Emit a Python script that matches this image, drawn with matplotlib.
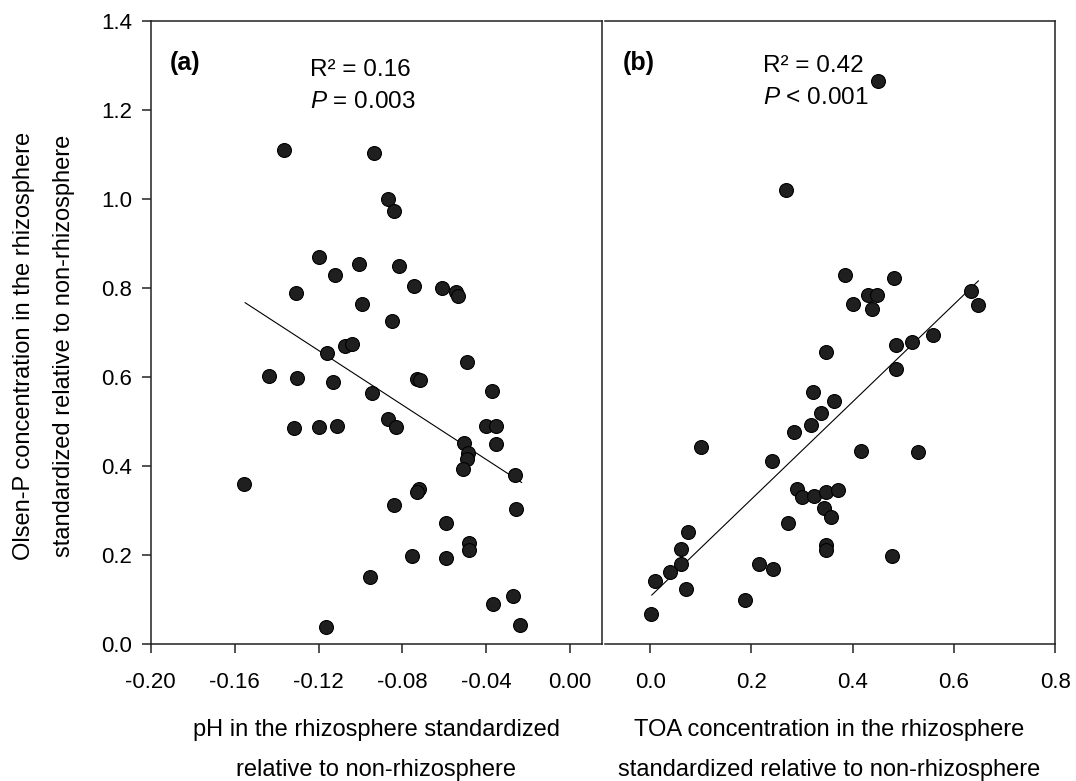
import matplotlib
matplotlib.use("Agg")
import matplotlib.pyplot as plt
import numpy as np

plt.rcParams["font.family"] = ["Liberation Sans", "DejaVu Sans"]
plt.rcParams["axes.unicode_minus"] = False
plt.rcParams["mathtext.fontset"] = "custom"
plt.rcParams["mathtext.rm"] = "Liberation Sans"
plt.rcParams["mathtext.it"] = "Liberation Sans:italic"

# (a) pH vs Olsen-P
ph_x = [-0.1365, -0.0934, -0.087, -0.084, -0.1196, -0.1006, -0.1122, -0.0818,
        -0.1306, -0.0745, -0.061, -0.0546, -0.0534, -0.0991, -0.0851, -0.1158,
        -0.1074, -0.1042, -0.1435, -0.1304, -0.113, -0.0947, -0.073, -0.0716,
        -0.0494, -0.0375, -0.1317, -0.1196, -0.1113, -0.087, -0.0832, -0.0402,
        -0.0354, -0.0505, -0.0356, -0.0486, -0.0494, -0.0513, -0.0264, -0.1554,
        -0.072, -0.0729, -0.084, -0.026, -0.0593, -0.0481, -0.0483, -0.0753,
        -0.0593, -0.0956, -0.0272, -0.037, -0.024, -0.1166]
olsen_a = [1.110, 1.104, 1.000, 0.972, 0.870, 0.854, 0.829, 0.849,
           0.788, 0.804, 0.800, 0.792, 0.782, 0.763, 0.726, 0.653,
           0.670, 0.674, 0.603, 0.598, 0.588, 0.563, 0.595, 0.593,
           0.633, 0.569, 0.486, 0.487, 0.489, 0.505, 0.488, 0.491,
           0.491, 0.452, 0.449, 0.429, 0.416, 0.393, 0.380, 0.360,
           0.349, 0.341, 0.313, 0.303, 0.271, 0.226, 0.211, 0.198,
           0.193, 0.151, 0.109, 0.091, 0.043, 0.0375]
fit_a_x = [-0.155, -0.0232]
fit_a_y = [0.767, 0.363]

# (b) TOA vs Olsen-P
toa_x = [0.4494, 0.269, 0.385, 0.4816, 0.431, 0.4475, 0.400, 0.4376, 0.6336,
         0.648, 0.559, 0.5166, 0.4856, 0.3468, 0.486, 0.3224, 0.3638, 0.337,
         0.3178, 0.2848, 0.1007, 0.4159, 0.5284, 0.2402, 0.2896, 0.2995,
         0.3243, 0.3474, 0.3717, 0.3435, 0.3567, 0.273, 0.0744, 0.0612, 0.348,
         0.348, 0.0612, 0.0395, 0.0099, 0.2158, 0.2434, 0.4783, 0.0711,
         0.1875, 0.002]
olsen_b = [1.265, 1.020, 0.829, 0.822, 0.784, 0.784, 0.764, 0.752, 0.793,
           0.762, 0.694, 0.678, 0.672, 0.657, 0.618, 0.566, 0.545, 0.520,
           0.493, 0.476, 0.443, 0.434, 0.431, 0.411, 0.348, 0.331,
           0.333, 0.341, 0.345, 0.305, 0.286, 0.273, 0.252, 0.213, 0.2225,
           0.211, 0.179, 0.162, 0.142, 0.180, 0.168, 0.198, 0.124,
           0.100, 0.068]
fit_b_x = [0.0033, 0.648]
fit_b_y = [0.110, 0.816]

ylabel = "Olsen-P concentration in the rhizosphere\nstandardized relative to non-rhizosphere"
xlabel_a = "pH in the rhizosphere standardized\nrelative to non-rhizosphere"
xlabel_b = "TOA concentration in the rhizosphere\nstandardized relative to non-rhizosphere"

fig = plt.figure(figsize=(10.76, 7.81), dpi=100)
ax1 = fig.add_axes([0.1401, 0.1754, 0.4191, 0.7977])
ax2 = fig.add_axes([0.5623, 0.1754, 0.4185, 0.7977])

dot = dict(ls="none", marker="o", ms=10, mfc="#1f1f1f", mec="black", mew=0.8, zorder=3)

ax1.plot(ph_x, olsen_a, **dot)
ax1.plot(fit_a_x, fit_a_y, color="black", lw=0.8, zorder=2)
ax2.plot(toa_x, olsen_b, **dot)
ax2.plot(fit_b_x, fit_b_y, color="black", lw=0.8, zorder=2)

for ax in (ax1, ax2):
    ax.set_ylim(0, 1.4)
    for s in ax.spines.values():
        s.set_linewidth(1.1)
        s.set_color("#222222")
    ax.tick_params(axis="x", direction="out", length=6.5, width=1.1, pad=14,
                   labelsize=16, color="#222222")

ax1.set_xlim(-0.2, 0.015)
ax1.set_xticks(np.arange(-0.2, 0.001, 0.04))
ax1.set_xticklabels([f"{v:.2f}" for v in np.arange(-0.2, 0.001, 0.04)])
ax1.set_yticks(np.arange(0, 1.41, 0.2))
ax1.set_yticklabels([f"{v:.1f}" for v in np.arange(0, 1.41, 0.2)])
ax1.tick_params(axis="y", direction="out", length=6.5, width=1.1, pad=7,
                labelsize=16, color="#222222", right=False)

ax2.set_xlim(-0.089, 0.8)
ax2.set_xticks(np.arange(0, 0.81, 0.2))
ax2.set_xticklabels([f"{v:.1f}" for v in np.arange(0, 0.81, 0.2)])
ax2.spines["left"].set_visible(False)
ax2.tick_params(axis="y", left=False, labelleft=False)

ax1.set_ylabel(ylabel, fontsize=17, linespacing=2.05, va="center")
ax1.yaxis.set_label_coords(-0.236, 0.478)
ax1.set_xlabel(xlabel_a, fontsize=17, linespacing=2.05)
ax1.xaxis.set_label_coords(0.5, -0.121)
ax2.set_xlabel(xlabel_b, fontsize=17, linespacing=2.05)
ax2.xaxis.set_label_coords(0.497, -0.121)

ax1.text(0.043, 0.933, "(a)", transform=ax1.transAxes, fontsize=18,
         fontweight="bold", va="center", ha="left")
ax1.text(0.353, 0.921, "R² = 0.16", transform=ax1.transAxes, fontsize=17.5,
         va="center", ha="left")
ax1.text(0.353, 0.870, r"$P$ = 0.003", transform=ax1.transAxes, fontsize=17.5,
         va="center", ha="left")

ax2.text(0.04, 0.933, "(b)", transform=ax2.transAxes, fontsize=18,
         fontweight="bold", va="center", ha="left")
ax2.text(0.351, 0.928, "R² = 0.42", transform=ax2.transAxes, fontsize=17.5,
         va="center", ha="left")
ax2.text(0.351, 0.876, r"$P$ < 0.001", transform=ax2.transAxes, fontsize=17.5,
         va="center", ha="left")

fig.savefig("out.png", dpi=100)
